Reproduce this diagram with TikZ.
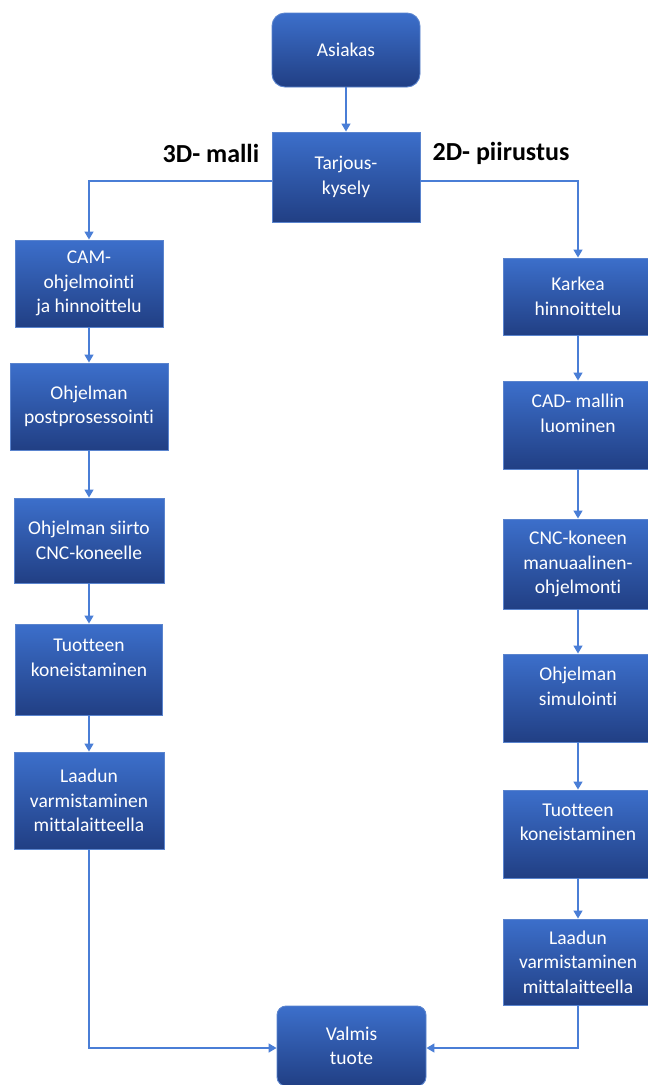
\documentclass[tikz,border=0pt]{standalone}
\usepackage{fontspec}
\setmainfont[Ligatures=NoCommon]{Carlito}
\usetikzlibrary{arrows.meta}
\definecolor{boxtop}{HTML}{3C6FCB}
\definecolor{boxmid}{HTML}{2F59AE}
\definecolor{boxbot}{HTML}{213F84}
\definecolor{boxline}{HTML}{5A84CE}
\definecolor{linkblue}{HTML}{4A7ED6}
\tikzset{
  linkarr/.style={-{Triangle[length=8pt,width=9pt]},line width=1.4pt,color=linkblue},
  procbox/.style={rectangle,draw=boxline,line width=0.9pt,top color=boxtop,middle color=boxmid,bottom color=boxbot,text=white,align=center,inner sep=1pt,font=\fontsize{19.5}{24.5}\selectfont},
  termbox/.style={procbox,rounded corners=13pt},
  raised/.style={text depth=24pt},
  sidelabel/.style={font=\fontsize{26}{30}\selectfont\bfseries,text=black}
}
\begin{document}
\begin{tikzpicture}[x=1pt,y=-1pt]
  \useasboundingbox (0,0) rectangle (648,1085);
  % top
  \node[termbox,minimum width=148pt,minimum height=74pt] (asiakas) at (346,50) {Asiakas};
  \node[procbox,minimum width=148pt,minimum height=90pt] (tarjous) at (346,177) {Tarjous-\\kysely};
  \node[sidelabel] (malli) at (211,153) {3D- malli};
  \node[sidelabel] (piirustus) at (501,153) {2D- piirustus};

  % 3D branch
  \node[procbox,minimum width=148pt,minimum height=87pt] (cam) at (89,283.5) {CAM-\\ohjelmointi\\ja hinnoittelu};
  \node[procbox,minimum width=158pt,minimum height=87pt] (post) at (89,406.5) {Ohjelman\\postprosessointi};
  \node[procbox,minimum width=150pt,minimum height=85pt] (siirto) at (89,540.5) {Ohjelman siirto\\CNC-koneelle};
  \node[procbox,raised,minimum width=147pt,minimum height=91pt] (koneL) at (89,669.5) {Tuotteen\\koneistaminen};
  \node[procbox,minimum width=150pt,minimum height=97pt] (laatuL) at (89,800.5) {Laadun\\varmistaminen\\mittalaitteella};

  % 2D branch
  \node[procbox,minimum width=150pt,minimum height=77pt] (karkea) at (578,296.5) {Karkea\\hinnoittelu};
  \node[procbox,raised,minimum width=150pt,minimum height=88pt] (cad) at (578,425) {CAD- mallin\\luominen};
  \node[procbox,minimum width=150pt,minimum height=90pt] (cnc) at (578,564) {CNC-koneen\\manuaalinen-\\ohjelmonti};
  \node[procbox,raised,minimum width=150pt,minimum height=88pt] (simu) at (578,698) {Ohjelman\\simulointi};
  \node[procbox,raised,minimum width=150pt,minimum height=88pt] (koneR) at (578,834) {Tuotteen\\koneistaminen};
  \node[procbox,minimum width=150pt,minimum height=86pt] (laatuR) at (578,962) {Laadun\\varmistaminen\\mittalaitteella};

  \node[termbox,rounded corners=9pt,minimum width=149pt,minimum height=80pt] (valmis) at (351.5,1046) {Valmis\\tuote};

  \draw[linkarr] (asiakas) -- (tarjous);
  \draw[linkarr] ([yshift=-4pt]tarjous.west) -| (cam.north);
  \draw[linkarr] ([yshift=-4pt]tarjous.east) -| (karkea.north);
  \draw[linkarr] (cam) -- (post);
  \draw[linkarr] (post) -- (siirto);
  \draw[linkarr] (siirto) -- (koneL);
  \draw[linkarr] (koneL) -- (laatuL);
  \draw[linkarr] (karkea) -- (cad);
  \draw[linkarr] (cad) -- (cnc);
  \draw[linkarr] (cnc) -- (simu);
  \draw[linkarr] (simu) -- (koneR);
  \draw[linkarr] (koneR) -- (laatuR);
  \draw[linkarr] (laatuL.south) |- ([yshift=-2pt]valmis.west);
  \draw[linkarr] (laatuR.south) |- ([yshift=-2pt]valmis.east);
\end{tikzpicture}
\end{document}
